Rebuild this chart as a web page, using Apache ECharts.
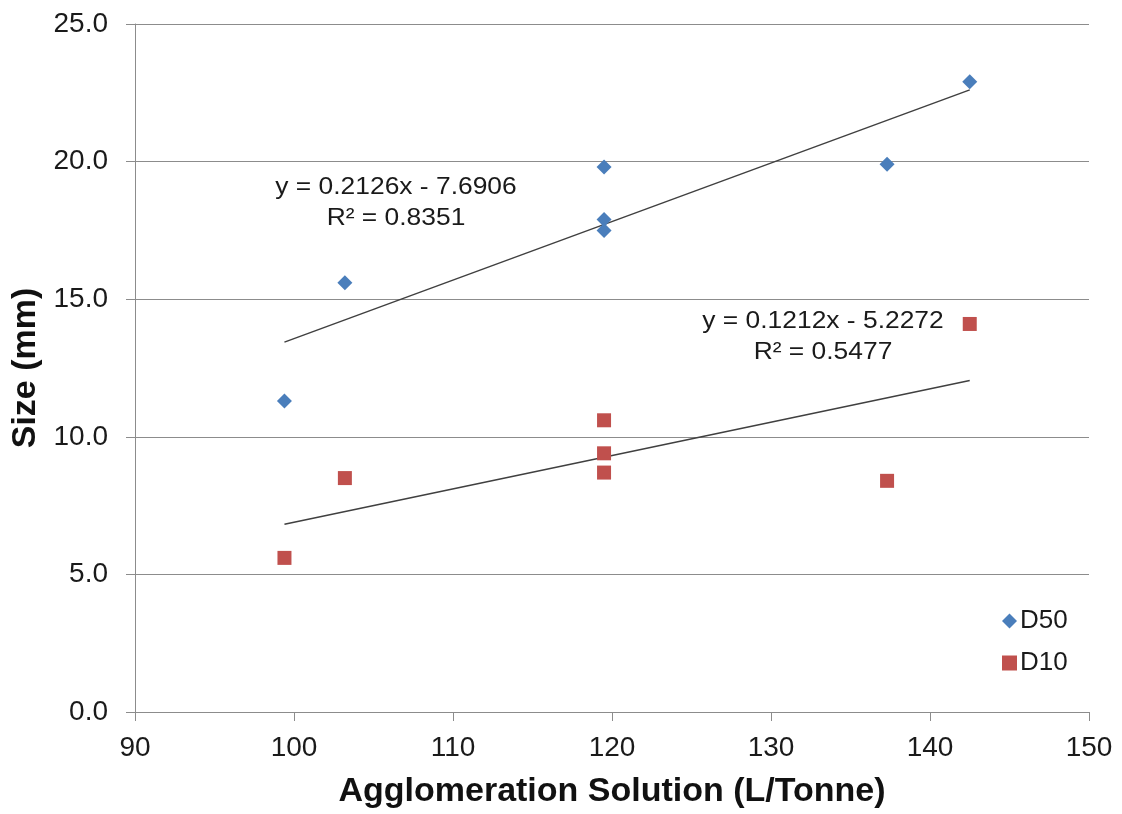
<!DOCTYPE html>
<html>
<head>
<meta charset="utf-8">
<script src="https://cdn.jsdelivr.net/npm/echarts@6/dist/echarts.min.js"></script>
<style>
  html, body { margin: 0; padding: 0; background: #ffffff; }
  #chart { width: 1122px; height: 814px; }
</style>
</head>
<body>
<div id="chart"></div>
<script>
// Agglomeration solution dosage (L/Tonne) for each test
const solution = [99.4, 103.2, 119.5, 119.5, 119.5, 137.3, 142.5];
// Particle sizes (mm)
const d50 = [11.3, 15.6, 19.8, 17.9, 17.5, 19.9, 22.9];
const d10 = [5.6, 8.5, 10.6, 9.4, 8.7, 8.4, 14.1];

// Linear fits: [slope, intercept, R²]
const fitD50 = [0.2126, -7.6906, 0.8351];
const fitD10 = [0.1212, -5.2272, 0.5477];

const xTicks = [90, 100, 110, 120, 130, 140, 150];
const yTicks = [0, 5, 10, 15, 20, 25];

const pairs = (xs, ys) => xs.map((x, i) => [x, ys[i]]);
const xMin = Math.min(...solution);
const xMax = Math.max(...solution);
const fitLine = (f) => [[xMin, f[0] * xMin + f[1]], [xMax, f[0] * xMax + f[1]]];
const eqText = (f) => 'y = ' + f[0].toFixed(4) + 'x - ' + Math.abs(f[1]).toFixed(4) + '\nR\u00B2 = ' + f[2].toFixed(4);

const FONT = '"Liberation Sans", Arial, sans-serif';
const INK = '#1a1a1a';
const AXIS = '#8c8c8c';
const BLUE = '#4a7ebb';
const RED = '#c0504d';

const chart = echarts.init(document.getElementById('chart'), null, { renderer: 'canvas' });

chart.setOption({
  animation: false,
  backgroundColor: '#ffffff',
  textStyle: { fontFamily: FONT },
  grid: { left: 135, right: 33, top: 24, bottom: 102, containLabel: false },
  xAxis: {
    type: 'value',
    min: xTicks[0],
    max: xTicks[xTicks.length - 1],
    interval: 10,
    name: 'Agglomeration Solution (L/Tonne)',
    nameLocation: 'middle',
    nameGap: 63,
    nameTextStyle: { fontFamily: FONT, fontSize: 34, fontWeight: 'bold', color: '#111' },
    axisLine: { show: true, lineStyle: { color: AXIS, width: 1 } },
    axisTick: { show: true, inside: false, length: 9, lineStyle: { color: AXIS } },
    axisLabel: { fontFamily: FONT, fontSize: 28, color: INK, margin: 22 },
    splitLine: { show: false }
  },
  yAxis: {
    type: 'value',
    min: yTicks[0],
    max: yTicks[yTicks.length - 1],
    interval: 5,
    name: 'Size (mm)',
    nameLocation: 'middle',
    nameGap: 86,
    nameRotate: 90,
    nameTextStyle: { fontFamily: FONT, fontSize: 34, fontWeight: 'bold', color: '#111' },
    axisLine: { show: true, lineStyle: { color: AXIS, width: 1 } },
    axisTick: { show: true, inside: false, length: 9, lineStyle: { color: AXIS } },
    axisLabel: { fontFamily: FONT, fontSize: 28, color: INK, margin: 27,
      formatter: (v) => v.toFixed(1) },
    splitLine: { show: true, lineStyle: { color: AXIS, width: 1 } }
  },
  legend: {
    orient: 'vertical',
    left: 997,
    top: 603,
    itemGap: 16,
    itemWidth: 15,
    itemHeight: 15,
    textStyle: { fontFamily: FONT, fontSize: 26, color: INK, padding: [0, 0, 0, -2] },
    data: [
      { name: 'D50', icon: 'diamond', itemStyle: { color: BLUE } },
      { name: 'D10', icon: 'rect', itemStyle: { color: RED } }
    ]
  },
  series: [
    {
      name: 'D50',
      type: 'scatter',
      symbol: 'diamond',
      symbolSize: 15,
      itemStyle: { color: BLUE, opacity: 1 },
      data: pairs(solution, d50),
      z: 3
    },
    {
      name: 'D10',
      type: 'scatter',
      symbol: 'rect',
      symbolSize: 14,
      itemStyle: { color: RED, opacity: 1 },
      data: pairs(solution, d10),
      z: 3
    },
    {
      name: 'Linear (D50)',
      type: 'line',
      showSymbol: false,
      symbol: 'none',
      lineStyle: { color: '#404040', width: 1.5 },
      data: fitLine(fitD50),
      z: 2
    },
    {
      name: 'Linear (D10)',
      type: 'line',
      showSymbol: false,
      symbol: 'none',
      lineStyle: { color: '#404040', width: 1.5 },
      data: fitLine(fitD10),
      z: 2
    }
  ],
  graphic: [
    {
      type: 'text',
      x: 396, y: 172,
      scaleX: 1.1,
      style: {
        text: eqText(fitD50),
        fontFamily: FONT, fontSize: 24, fill: INK,
        align: 'center', lineHeight: 31
      }
    },
    {
      type: 'text',
      x: 823, y: 306,
      scaleX: 1.1,
      style: {
        text: eqText(fitD10),
        fontFamily: FONT, fontSize: 24, fill: INK,
        align: 'center', lineHeight: 31
      }
    }
  ]
});
</script>
</body>
</html>
